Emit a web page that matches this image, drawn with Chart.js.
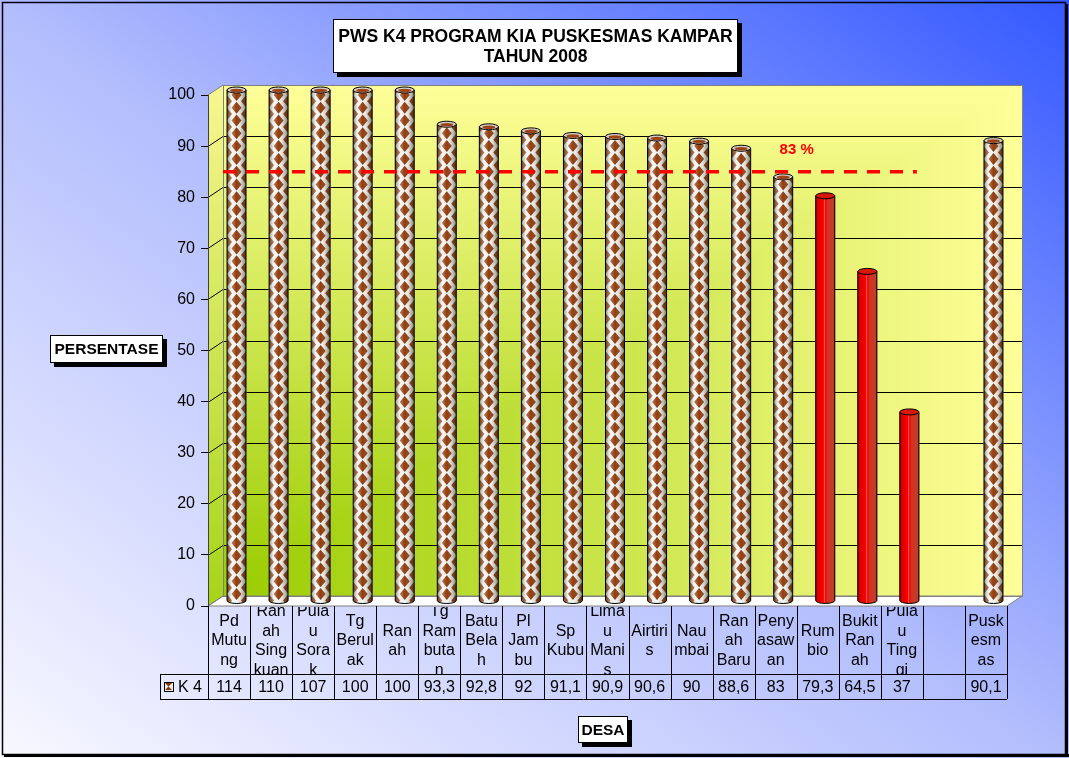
<!DOCTYPE html>
<html>
<head>
<meta charset="utf-8">
<script src="https://cdn.jsdelivr.net/npm/chart.js@4.4.1/dist/chart.umd.min.js"></script>
<style>
html,body{margin:0;padding:0;background:#fff}
#wrap{width:1069px;height:758px}
</style>
</head>
<body>
<div id="wrap"><canvas id="c" width="1069" height="758"></canvas></div>
<script>
// data
var desa = ["Pd Mutung","Ranah Singkuan","Pulau Sorak","Tg Berulak","Ranah","Tg Rambutan","Batu Belah","Pl Jambu","Sp Kubu","Limau Manis","Airtiris","Naumbai","Ranah Baru","Penyasawan","Rumbio","Bukit Ranah","Pulau Tinggi","","Puskesmas"];
var k4 = [114,110,107,100,100,93.3,92.8,92,91.1,90.9,90.6,90,88.6,83,79.3,64.5,37,null,90.1];
var target = 83;
var yTicks = [0,10,20,30,40,50,60,70,80,90,100];
var seriesName = "K 4";
var chartTitle = ["PWS K4 PROGRAM KIA PUSKESMAS KAMPAR","TAHUN 2008"];
var yTitle = "PERSENTASE";
var xTitle = "DESA";

var FONT = '"Liberation Sans", Arial, sans-serif';
var DX = 15, DY = 10; // depth of the 3d box
var TFONT = 16;       // table text size

function wallCanvas(w, h) {
  var c = document.createElement('canvas');
  c.width = w; c.height = h;
  var g = c.getContext('2d');
  var img = g.createImageData(w, h);
  for (var y = 0; y < h; y++) {
    for (var x = 0; x < w; x++) {
      var t = Math.max(x / (w - 1), 1 - y / (h - 1));
      var k = (y * w + x) * 4;
      img.data[k] = 153 + 102 * t;
      img.data[k + 1] = 204 + 51 * t;
      img.data[k + 2] = 153 * t;
      img.data[k + 3] = 255;
    }
  }
  g.putImageData(img, 0, 0);
  return c;
}

function box(ctx, x, y, w, h, lines, size, lh) {
  ctx.fillStyle = '#000';
  ctx.fillRect(x + 4, y + 4, w, h);
  ctx.fillStyle = '#fff';
  ctx.fillRect(x, y, w, h);
  ctx.strokeStyle = '#000';
  ctx.lineWidth = 1;
  ctx.strokeRect(x + 0.5, y + 0.5, w - 1, h - 1);
  ctx.fillStyle = '#000';
  ctx.font = 'bold ' + size + 'px ' + FONT;
  ctx.textAlign = 'center';
  ctx.textBaseline = 'middle';
  lines.forEach(function (t, i) {
    ctx.fillText(t, x + w / 2, y + h / 2 + 1 + (i - (lines.length - 1) / 2) * lh);
  });
}

function diamond(ctx, cx, cy, hw, hh) {
  ctx.beginPath();
  ctx.moveTo(cx, cy - hh);
  ctx.lineTo(cx + hw, cy);
  ctx.lineTo(cx, cy + hh);
  ctx.lineTo(cx - hw, cy);
  ctx.closePath();
  ctx.fill();
}

function wrap(ctx, text, maxW) {
  var out = [], cur = '';
  text.split(' ').forEach(function (word) {
    if (!word) return;
    var trial = cur ? cur + ' ' + word : word;
    if (ctx.measureText(trial).width <= maxW) { cur = trial; return; }
    if (cur) { out.push(cur); cur = ''; }
    var piece = '';
    for (var i = 0; i < word.length; i++) {
      var ch = word[i];
      if (piece && ctx.measureText(piece + ch).width > maxW) { out.push(piece); piece = ch; }
      else piece += ch;
    }
    cur = piece;
  });
  if (cur) out.push(cur);
  return out;
}

var boxPlugin = {
  id: 'box3d',
  beforeDraw: function (chart) {
    var ctx = chart.ctx, a = chart.chartArea, ys = chart.scales.y;
    var W = chart.width, H = chart.height;
    var L = a.left, R = a.right, T = a.top, B = a.bottom;
    ctx.save();
    // page background, diagonal gradient
    ctx.save();
    ctx.scale(W, H);
    var bg = ctx.createLinearGradient(0, 1, 1, 0);
    bg.addColorStop(0, '#f8f8ff');
    bg.addColorStop(0.5, '#b2bdfd');
    bg.addColorStop(1, '#3358ff');
    ctx.fillStyle = bg;
    ctx.fillRect(0, 0, 1, 1);
    ctx.restore();
    // frame
    ctx.fillStyle = '#000';
    ctx.fillRect(4, H - 4, W - 4, 3);
    ctx.fillRect(W - 4, 4, 3, H - 5);
    ctx.strokeStyle = '#000';
    ctx.lineWidth = 1.5;
    ctx.strokeRect(2.5, 2.5, W - 6, H - 6);

    // back wall
    ctx.drawImage(wallCanvas(Math.round(R - L), Math.round(B - T)), L + DX, T - DY);
    // left wall
    var lg = ctx.createLinearGradient(0, B, 0, T);
    lg.addColorStop(0, '#a6d418');
    lg.addColorStop(1, '#f6f68e');
    ctx.fillStyle = lg;
    ctx.beginPath();
    ctx.moveTo(L, T); ctx.lineTo(L + DX, T - DY); ctx.lineTo(L + DX, B - DY); ctx.lineTo(L, B);
    ctx.closePath(); ctx.fill();
    // floor
    ctx.fillStyle = '#fff';
    ctx.beginPath();
    ctx.moveTo(L, B); ctx.lineTo(R, B); ctx.lineTo(R + DX, B - DY); ctx.lineTo(L + DX, B - DY);
    ctx.closePath(); ctx.fill();
    ctx.strokeStyle = '#808080'; ctx.lineWidth = 1; ctx.stroke();
    // grid lines
    ctx.strokeStyle = '#000';
    ctx.lineWidth = 1;
    yTicks.forEach(function (v) {
      if (v === 0 || v === 100) return;
      var y = Math.round(ys.getPixelForValue(v)) + 0.5;
      ctx.beginPath();
      ctx.moveTo(L, y); ctx.lineTo(L + DX, y - DY); ctx.lineTo(R + DX, y - DY);
      ctx.stroke();
    });
    // wall borders
    ctx.strokeStyle = '#808080';
    ctx.strokeRect(L + DX + 0.5, T - DY + 0.5, R - L, B - T);
    ctx.beginPath();
    ctx.moveTo(L, T); ctx.lineTo(L + DX, T - DY);
    ctx.moveTo(L, B); ctx.lineTo(L + DX, B - DY);
    ctx.stroke();
    ctx.restore();
  },
  beforeDatasetsDraw: function (chart) {
    chart.ctx.save();
    chart.ctx.translate(DX / 2, -DY / 2);
  },
  afterDatasetsDraw: function (chart) {
    var ctx = chart.ctx, a = chart.chartArea, meta = chart.getDatasetMeta(0);
    meta.data.forEach(function (el, i) {
      var v = k4[i];
      if (v == null) return;
      var p = el.getProps(['x', 'y', 'base', 'width'], true);
      var w = p.width, cx = p.x, x0 = cx - w / 2, top = Math.max(p.y, a.top), bot = p.base, ry = 3;
      var red = v < target;
      ctx.save();
      ctx.beginPath();
      ctx.moveTo(x0, top); ctx.lineTo(x0 + w, top); ctx.lineTo(x0 + w, bot);
      ctx.ellipse(cx, bot, w / 2, ry, 0, 0, Math.PI);
      ctx.closePath();
      ctx.clip();
      if (red) {
        var gr = ctx.createLinearGradient(x0, 0, x0 + w, 0);
        gr.addColorStop(0, '#b80000');
        gr.addColorStop(0.15, '#e00000');
        gr.addColorStop(0.4, '#f60000');
        gr.addColorStop(0.45, '#ff5040');
        gr.addColorStop(0.52, '#e80808');
        gr.addColorStop(0.62, '#d83020');
        gr.addColorStop(1, '#b84030');
        ctx.fillStyle = gr;
        ctx.fillRect(x0, top, w, bot - top + ry);
      } else {
        ctx.fillStyle = '#f2f2ee';
        ctx.fillRect(x0, top, w, bot - top + ry);
        ctx.fillStyle = '#8c3200';
        var P = 12.8;
        for (var y = bot - P / 2; y > top - P; y -= P) diamond(ctx, cx, y, 5, 6);
        for (var y2 = bot; y2 > top - P; y2 -= P) {
          diamond(ctx, x0, y2, 5, 6);
          diamond(ctx, x0 + w, y2, 5, 6);
        }
        var sh = ctx.createLinearGradient(x0, 0, x0 + w, 0);
        sh.addColorStop(0, 'rgba(60,60,50,0.55)');
        sh.addColorStop(0.25, 'rgba(255,255,255,0.35)');
        sh.addColorStop(0.5, 'rgba(255,255,255,0.05)');
        sh.addColorStop(0.8, 'rgba(90,90,80,0.3)');
        sh.addColorStop(1, 'rgba(40,40,30,0.6)');
        ctx.fillStyle = sh;
        ctx.fillRect(x0, top, w, bot - top + ry);
      }
      ctx.restore();
      ctx.strokeStyle = '#000';
      ctx.lineWidth = 1;
      ctx.beginPath();
      ctx.moveTo(x0, top); ctx.lineTo(x0, bot);
      ctx.ellipse(cx, bot, w / 2, ry, 0, Math.PI, 0, true);
      ctx.lineTo(x0 + w, top);
      ctx.stroke();
      ctx.beginPath();
      ctx.ellipse(cx, top, w / 2, ry, 0, 0, 2 * Math.PI);
      ctx.fillStyle = red ? '#d81808' : '#d6d2ca';
      ctx.fill();
      ctx.stroke();
      if (!red) {
        ctx.beginPath();
        ctx.ellipse(cx, top + 0.5, w / 2 - 3, ry - 1.2, 0, 0, 2 * Math.PI);
        ctx.fillStyle = '#9a4418';
        ctx.fill();
      }
    });
    ctx.restore();
  },
  afterDraw: function (chart) {
    var ctx = chart.ctx, a = chart.chartArea, xs = chart.scales.x, ys = chart.scales.y;
    var L = a.left, R = a.right, B = a.bottom;
    ctx.save();
    // target line on the back wall
    var ty = ys.getPixelForValue(target) - DY;
    ctx.strokeStyle = '#ff0000';
    ctx.lineWidth = 3.5;
    ctx.setLineDash([13, 10]);
    ctx.beginPath();
    ctx.moveTo(L + DX, ty);
    ctx.lineTo(xs.getPixelForValue(16) + DX, ty);
    ctx.stroke();
    ctx.setLineDash([]);
    ctx.fillStyle = '#ff0000';
    ctx.font = 'bold 15px ' + FONT;
    ctx.textAlign = 'center';
    ctx.textBaseline = 'middle';
    ctx.fillText(target + ' %', xs.getPixelForValue(13) + DX + 6, ty - 22);

    // data table
    var n = desa.length, cw = (R - L) / n;
    var rowTop = B, rowMid = B + 68, rowBot = B + 93;
    var legL = L - 48;
    ctx.strokeStyle = '#000';
    ctx.lineWidth = 1;
    ctx.beginPath();
    ctx.moveTo(legL, rowMid + 0.5); ctx.lineTo(R, rowMid + 0.5);
    ctx.moveTo(legL, rowBot + 0.5); ctx.lineTo(R, rowBot + 0.5);
    ctx.moveTo(legL + 0.5, rowMid); ctx.lineTo(legL + 0.5, rowBot);
    for (var i = 0; i <= n; i++) {
      var gx = Math.round(L + i * cw) + 0.5;
      ctx.moveTo(gx, rowTop); ctx.lineTo(gx, rowBot);
    }
    ctx.stroke();
    ctx.fillStyle = '#000';
    ctx.font = TFONT + 'px ' + FONT;
    desa.forEach(function (name, i) {
      var x = xs.getPixelForValue(i);
      var lines = wrap(ctx, name, TFONT * 2.36);
      ctx.save();
      ctx.beginPath();
      ctx.rect(L + i * cw + 1, rowTop + 1, cw - 2, rowMid - rowTop - 1);
      ctx.clip();
      var cy = (rowTop + rowMid) / 2 + 1;
      lines.forEach(function (t, j) {
        ctx.fillText(t, x, cy + (j - (lines.length - 1) / 2) * 19.5);
      });
      ctx.restore();
      var v = k4[i];
      if (v != null) ctx.fillText(String(v).replace('.', ','), x, (rowMid + rowBot) / 2 + 1);
    });
    // legend key
    var kx = legL + 4, ky = rowMid + 8;
    ctx.fillStyle = '#efefea';
    ctx.fillRect(kx, ky, 9, 9);
    ctx.fillStyle = '#8c3200';
    ctx.beginPath();
    ctx.moveTo(kx + 1, ky + 1); ctx.lineTo(kx + 8, ky + 1); ctx.lineTo(kx + 4.5, ky + 4.5);
    ctx.lineTo(kx + 8, ky + 8); ctx.lineTo(kx + 1, ky + 8); ctx.lineTo(kx + 4.5, ky + 4.5);
    ctx.closePath(); ctx.fill();
    ctx.strokeStyle = '#000';
    ctx.strokeRect(kx + 0.5, ky + 0.5, 9, 9);
    ctx.fillStyle = '#000';
    ctx.textAlign = 'left';
    ctx.fillText(seriesName, kx + 14, (rowMid + rowBot) / 2 + 1);

    // title boxes
    box(ctx, 333, 19, 405, 54, chartTitle, 17.5, 20);
    box(ctx, 50, 335, 113, 28, [yTitle], 15.5, 18);
    box(ctx, 578, 716, 50, 27, [xTitle], 15.5, 18);
    ctx.restore();
  }
};

var ctxc = document.getElementById('c').getContext('2d');
var chart = new Chart(ctxc, {
  type: 'bar',
  data: {
    labels: desa,
    datasets: [{
      label: seriesName,
      data: k4,
      backgroundColor: function (c) { return (c.raw != null && c.raw < target) ? '#e00000' : '#f2f2ee'; },
      borderWidth: 0,
      barThickness: 19
    }]
  },
  options: {
    responsive: false,
    animation: false,
    devicePixelRatio: 1,
    layout: { padding: { left: 0, top: 95, right: 62, bottom: 152 } },
    plugins: { legend: { display: false }, tooltip: { enabled: false } },
    scales: {
      x: { display: false },
      y: {
        min: 0, max: 100,
        afterFit: function (s) { s.width = 208; },
        afterBuildTicks: function (s) { s.ticks = yTicks.map(function (v) { return { value: v }; }); },
        ticks: { color: '#000', padding: 6, font: { family: FONT, size: 16 } },
        grid: { drawOnChartArea: false, drawTicks: true, tickLength: 7, color: '#000' },
        border: { display: true, color: '#404040' }
      }
    }
  },
  plugins: [boxPlugin]
});
</script>
</body>
</html>
